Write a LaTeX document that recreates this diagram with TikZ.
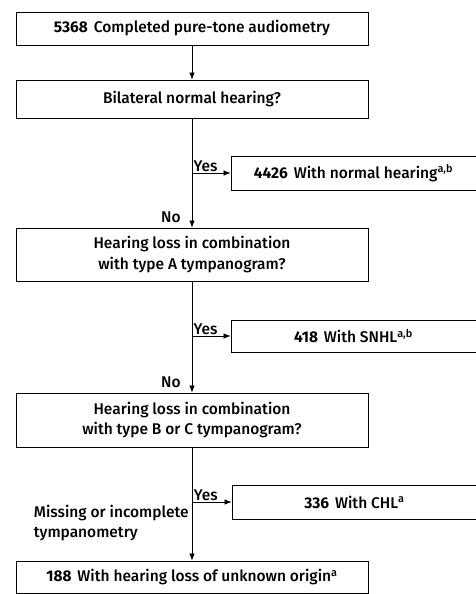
\documentclass[tikz,border=0pt]{standalone}
\usepackage{fontspec}
\setmainfont{Fira Sans}[UprightFont={* Medium}, BoldFont={* Bold}]
\usetikzlibrary{arrows.meta, positioning, calc}

\begin{document}
\begin{tikzpicture}[
  x=1pt, y=-1pt,
  every node/.style={font=\fontsize{15.5}{20.5}\selectfont},
  box/.style={draw, line width=0.8pt, minimum width=352pt, align=center, inner sep=2pt},
  result/.style={draw, line width=0.8pt, minimum width=245pt, align=center, inner sep=2pt},
  arrow/.style={-{Latex[length=7pt, width=5.5pt]}, line width=0.7pt},
  label/.style={inner sep=1pt}
]
\useasboundingbox (0,0) rectangle (476,594);

  % Hauptspalte
  \node[box, minimum height=33pt] (audio) at (192,28.5) {\textbf{5368}\hspace{2pt} Completed pure-tone audiometry};
  \node[box, minimum height=38pt] (bilat) at (192,99) {Bilateral normal hearing?};
  \node[box, minimum height=53pt] (typeA) at (192,254.5) {Hearing loss in combination\\with type A tympanogram?};
  \node[box, minimum height=54pt] (typeBC) at (192,420) {Hearing loss in combination\\with type B or C tympanogram?};
  \node[box, minimum height=32pt] (unknown) at (192,577) {\textbf{188}\hspace{2pt} With hearing loss of unknown origin\textsuperscript{a}};

  % Ergebnisse rechts
  \node[result, minimum height=34pt] (normal) at (353.5,173) {\textbf{4426}\hspace{2pt} With normal hearing\textsuperscript{a,b}};
  \node[result, minimum height=32pt] (snhl) at (353.5,336) {\textbf{418}\hspace{2pt} With SNHL\textsuperscript{a,b}};
  \node[result, minimum height=34pt] (chl) at (354.5,502) {\textbf{336}\hspace{2pt} With CHL\textsuperscript{a}};

  % Pfeile
  \draw[arrow] (audio) -- (bilat);
  \draw[arrow] (bilat) -- (typeA) node[label, pos=1, anchor=south east, xshift=-10pt, yshift=4pt] {No};
  \draw[arrow] (typeA) -- (typeBC) node[label, pos=1, anchor=south east, xshift=-10pt, yshift=4pt] {No};
  \draw[arrow] (typeBC) -- (unknown) node[label, pos=0.67, left, align=left, xshift=-2pt] {Missing or incomplete\\tympanometry};

  \draw[arrow] (bilat.south |- normal.west) -- (normal.west) node[label, pos=0.35, above] {Yes};
  \draw[arrow] (typeA.south |- snhl.west) -- (snhl.west) node[label, pos=0.35, above] {Yes};
  \draw[arrow] (typeBC.south |- chl.west) -- (chl.west) node[label, pos=0.35, above] {Yes};

\end{tikzpicture}
\end{document}
